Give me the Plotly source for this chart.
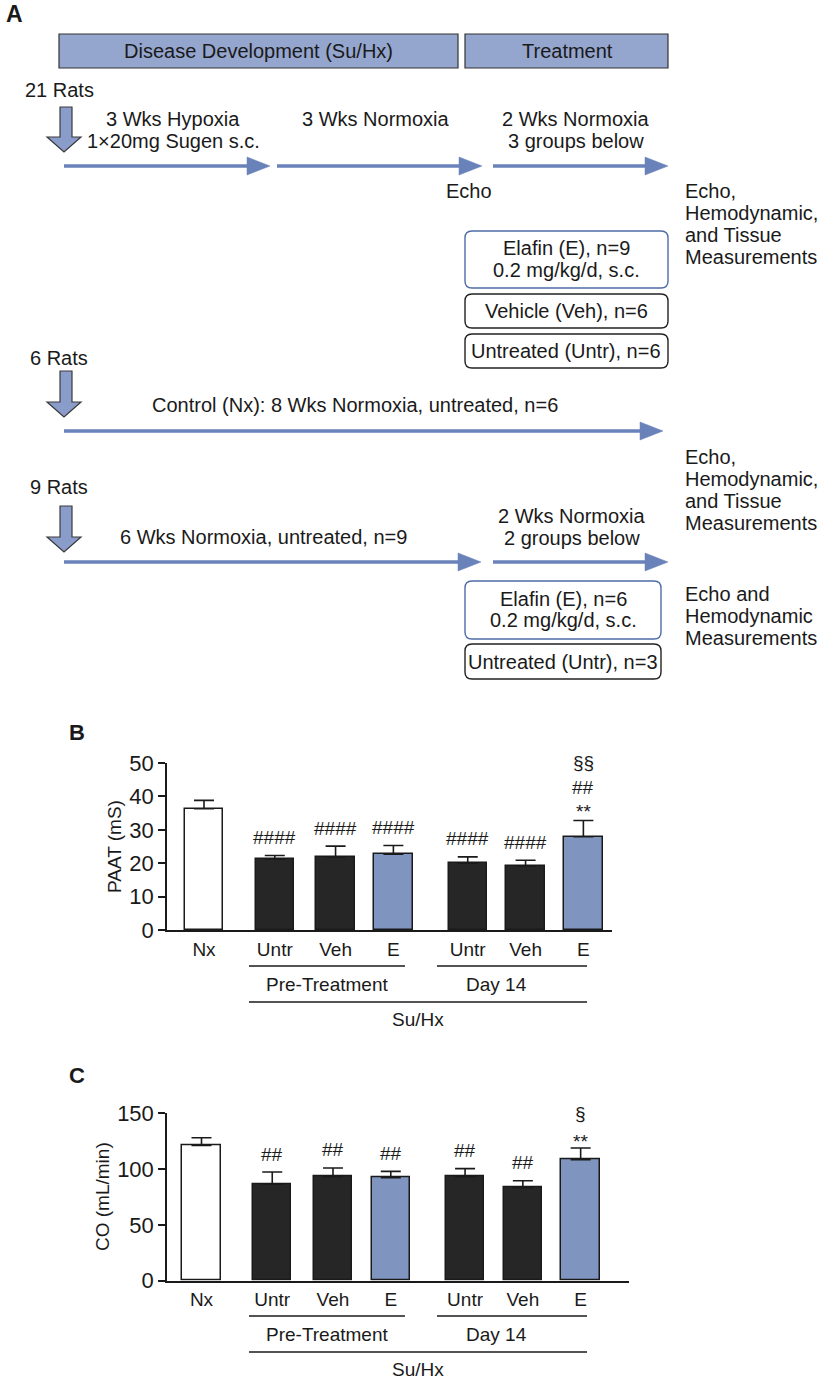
import plotly.graph_objects as go

# ---------------- data ----------------
categories = ["Nx", "Untr", "Veh", "E", "Untr", "Veh", "E"]
group_kind = ["nx", "dark", "dark", "blue", "dark", "dark", "blue"]
paat_mean = [36.3, 21.3, 21.9, 22.7, 20.0, 19.2, 27.9]
paat_sem = [2.5, 1.0, 3.2, 2.6, 1.9, 1.7, 4.9]
co_mean = [121.3, 86.6, 93.2, 92.3, 93.2, 83.3, 108.4]
co_sem = [6.8, 10.8, 7.8, 5.7, 7.2, 6.3, 10.5]
paat_sig = [[], ["####"], ["####"], ["####"], ["####"], ["####"], ["**", "##", "§§"]]
co_sig = [[], ["##"], ["##"], ["##"], ["##"], ["##"], ["**", "§"]]
paat_ticks = [0, 10, 20, 30, 40, 50]
co_ticks = [0, 50, 100, 150]

# ---------------- layout constants ----------------
W, H = 822, 1381
FONT = "Liberation Sans, Arial, sans-serif"
TXT = "#1a1a1a"
FS = 19
FA = 20
x_pos = [0, 1.2, 2.23, 3.21, 4.47, 5.45, 6.43]
bar_w = 0.65
fills = {"nx": "#ffffff", "dark": "#262626", "blue": "#7F94BF"}
HEAD_FILL = "#94A5CE"
ARROW_FILL = "#8A9CC9"
LINE_BLUE = "#6A82BA"
BOX_BLUE = "#4E6CA8"

fig = go.Figure()

shapes = []
annotations = []


def txt(x, y, s, size=FA, anchor="center", bold=False, ref=("x3", "y3"), angle=0, yshift=0):
    annotations.append(dict(
        x=x, y=y, xref=ref[0], yref=ref[1], text=("<b>%s</b>" % s) if bold else s,
        showarrow=False, xanchor=anchor, yanchor="middle", textangle=angle, yshift=yshift,
        font=dict(family=FONT, size=size, color=TXT)))


def rect(x0, y0, x1, y1, fill, line="#333333", lw=1.2):
    shapes.append(dict(type="rect", xref="x3", yref="y3", x0=x0, y0=y0, x1=x1, y1=y1,
                       fillcolor=fill, line=dict(color=line, width=lw)))


def rbox(x0, y0, x1, y1, line, r=7, lw=1.4):
    p = (f"M {x0+r},{y0} L {x1-r},{y0} Q {x1},{y0} {x1},{y0+r} L {x1},{y1-r} "
         f"Q {x1},{y1} {x1-r},{y1} L {x0+r},{y1} Q {x0},{y1} {x0},{y1-r} "
         f"L {x0},{y0+r} Q {x0},{y0} {x0+r},{y0} Z")
    shapes.append(dict(type="path", xref="x3", yref="y3", path=p, fillcolor="white",
                       line=dict(color=line, width=lw)))


def down_arrow(y0, y1):
    hs = y1 - 15
    p = (f"M 60,{y0} L 72,{y0} L 72,{hs} L 81,{hs} L 64,{y1} L 47,{hs} L 60,{hs} Z")
    shapes.append(dict(type="path", xref="x3", yref="y3", path=p, fillcolor=ARROW_FILL,
                       line=dict(color="#3a3a3a", width=1.2)))


def timeline(y, x0, x1, head=23, hh=9):
    shapes.append(dict(type="line", xref="x3", yref="y3", x0=x0, y0=y, x1=x1 - head + 2, y1=y,
                       line=dict(color=LINE_BLUE, width=3.5)))
    p = f"M {x1-head},{y-hh} L {x1},{y} L {x1-head},{y+hh} Z"
    shapes.append(dict(type="path", xref="x3", yref="y3", path=p, fillcolor=LINE_BLUE,
                       line=dict(color=LINE_BLUE, width=0.5)))


def hline(x0, x1, y):
    shapes.append(dict(type="line", xref="x3", yref="y3", x0=x0, y0=y, x1=x1, y1=y,
                       line=dict(color=TXT, width=1.5)))


# ---------------- Panel A ----------------
txt(4, 14, "A", size=23, anchor="left", bold=True)
rect(59, 34, 458, 68, HEAD_FILL)
rect(465, 34, 668, 68, HEAD_FILL)
txt(258, 51, "Disease Development (Su/Hx)")
txt(567, 51, "Treatment")

txt(59, 90, "21 Rats")
down_arrow(107, 152)
txt(173, 119, "3 Wks Hypoxia")
txt(173, 141, "1×20mg Sugen s.c.")
txt(376, 119, "3 Wks Normoxia")
txt(576, 119, "2 Wks Normoxia")
txt(576, 141, "3 groups below")
timeline(166, 64, 270)
timeline(166, 277, 482)
timeline(166, 493, 668)
txt(469, 191, "Echo")
for yy, s in zip([191, 213, 235, 257], ["Echo,", "Hemodynamic,", "and Tissue", "Measurements"]):
    txt(683, yy, s, anchor="left")
rbox(465, 231, 668, 288, BOX_BLUE)
txt(566, 248, "Elafin (E), n=9")
txt(566, 270, "0.2 mg/kg/d, s.c.")
rbox(465, 294, 668, 328, "#222222")
txt(566, 311, "Vehicle (Veh), n=6")
rbox(465, 334, 668, 368, "#222222")
txt(566, 351, "Untreated (Untr), n=6")

txt(59, 358, "6 Rats")
down_arrow(371, 417)
txt(355, 405, "Control (Nx): 8 Wks Normoxia, untreated, n=6")
timeline(431, 64, 663)
for yy, s in zip([457, 479, 501, 523], ["Echo,", "Hemodynamic,", "and Tissue", "Measurements"]):
    txt(683, yy, s, anchor="left")

txt(59, 487, "9 Rats")
down_arrow(506, 552)
txt(263, 537, "6 Wks Normoxia, untreated, n=9")
txt(572, 516, "2 Wks Normoxia")
txt(572, 538, "2 groups below")
timeline(562, 64, 481)
timeline(562, 493, 668)
rbox(465, 581, 661, 639, BOX_BLUE)
txt(563, 599, "Elafin (E), n=6")
txt(563, 620, "0.2 mg/kg/d, s.c.")
rbox(465, 644, 661, 679, "#222222")
txt(563, 662, "Untreated (Untr), n=3")
for yy, s in zip([594, 616, 638], ["Echo and", "Hemodynamic", "Measurements"]):
    txt(683, yy, s, anchor="left")

# ---------------- Panels B, C (bars) ----------------
bar_colors = [fills[k] for k in group_kind]


def add_bars(means, sems, xa, ya):
    fig.add_trace(go.Bar(
        x=x_pos, y=means, width=bar_w, xaxis=xa, yaxis=ya,
        marker=dict(color=bar_colors, line=dict(color="#1a1a1a", width=1.5)),
        error_y=dict(type="data", array=sems, arrayminus=[0] * len(sems), symmetric=False,
                     color="#1a1a1a", thickness=1.6, width=10),
        showlegend=False, hoverinfo="skip", cliponaxis=False))


add_bars(paat_mean, paat_sem, "x", "y")
add_bars(co_mean, co_sem, "x2", "y2")


def add_sig(means, sems, sigs, xr, yr, shifts):
    for xp, m, s, labs in zip(x_pos, means, sems, sigs):
        for i, lab in enumerate(labs):
            sh = shifts[len(labs)][i]
            annotations.append(dict(x=xp, y=m + s, xref=xr, yref=yr, text=lab, showarrow=False,
                                    xanchor="center", yanchor="middle", yshift=sh,
                                    font=dict(family=FONT, size=FS, color=TXT)))


add_sig(paat_mean, paat_sem, paat_sig, "x", "y", {1: [18], 3: [9, 33, 58]})
add_sig(co_mean, co_sem, co_sig, "x2", "y2", {1: [18], 2: [7, 35]})

# panel labels & titles
txt(67, 732, "B", size=22, anchor="left", bold=True)
txt(114, 847, "PAAT (mS)", size=FS, angle=-90)
txt(67, 1075, "C", size=22, anchor="left", bold=True)
txt(102, 1197, "CO (mL/min)", size=FS, angle=-90)

# group brackets under bars
for base in (0, 350):
    hline(249, 405, 966 + base)
    hline(437, 587, 966 + base)
    hline(249, 587, 1002 + base)
    txt(327, 984 + base, "Pre-Treatment", size=FS)
    txt(496, 984 + base, "Day 14", size=FS)
    txt(418, 1019 + base, "Su/Hx", size=FS)

# invisible trace to materialise the pixel overlay axes
fig.add_trace(go.Scatter(x=[0], y=[0], xaxis="x3", yaxis="y3", mode="markers",
                         marker=dict(opacity=0), showlegend=False, hoverinfo="skip"))

axis_common = dict(showgrid=False, zeroline=False, linecolor="#1a1a1a", linewidth=1.5)
tick_y = dict(family=FONT, size=22, color=TXT)
tick_x = dict(family=FONT, size=FS, color=TXT)

fig.update_layout(
    width=W, height=H, margin=dict(l=0, r=0, t=0, b=0, autoexpand=False),
    paper_bgcolor="white", plot_bgcolor="rgba(0,0,0,0)",
    bargap=0, showlegend=False,
    xaxis=dict(domain=[167 / W, 612 / W], range=[-0.627, 6.915], anchor="y",
               tickvals=x_pos, ticktext=categories, ticks="outside", ticklen=1,
               tickcolor="rgba(0,0,0,0)", showline=True, tickfont=tick_x, **axis_common),
    yaxis=dict(domain=[(H - 930) / H, (H - 763) / H], range=[0, 50], anchor="x",
               tickvals=paat_ticks, ticks="outside", ticklen=7, tickwidth=1.5, tickcolor="#1a1a1a",
               showline=True, tickfont=tick_y, **axis_common),
    xaxis2=dict(domain=[167 / W, 629 / W], range=[-0.585, 7.25], anchor="y2",
                tickvals=x_pos, ticktext=categories, ticks="outside", ticklen=1,
                tickcolor="rgba(0,0,0,0)", showline=True, tickfont=tick_x, **axis_common),
    yaxis2=dict(domain=[(H - 1280.7) / H, (H - 1113.3) / H], range=[0, 150], anchor="x2",
                tickvals=co_ticks, ticks="outside", ticklen=7, tickwidth=1.5, tickcolor="#1a1a1a",
                showline=True, tickfont=tick_y, **axis_common),
    xaxis3=dict(domain=[0, 1], range=[0, W], visible=False, anchor="y3", fixedrange=True),
    yaxis3=dict(domain=[0, 1], range=[H, 0], visible=False, anchor="x3", fixedrange=True),
    shapes=shapes, annotations=annotations,
)

fig.write_html("out.html", config={"displayModeBar": False},
               post_script="document.body.style.margin='0px';document.body.style.overflow='hidden';")
